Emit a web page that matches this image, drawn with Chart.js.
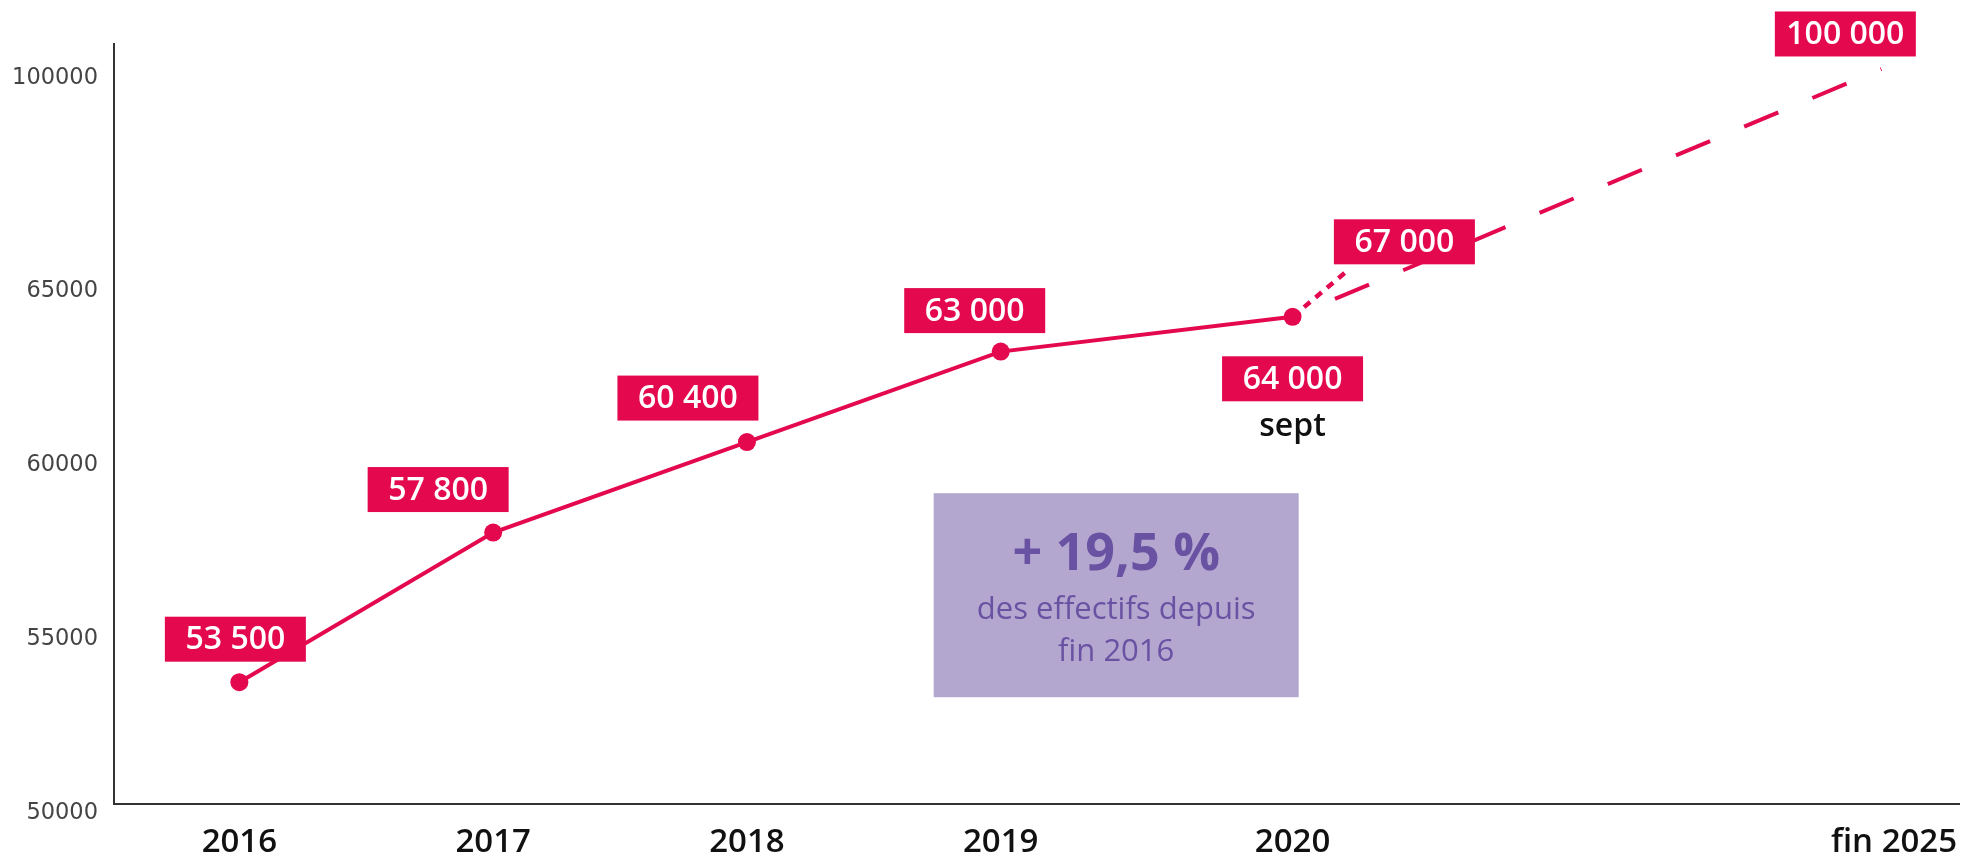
<!DOCTYPE html>
<html lang="fr">
<head>
<meta charset="utf-8">
<title>Effectifs 2016 - fin 2025</title>
<script src="https://cdn.jsdelivr.net/npm/chart.js@4.4.1/dist/chart.umd.min.js"></script>
<style>
    html, body { margin: 0; padding: 0; background: #fff; }
    #wrap { width: 1968px; height: 860px; }
</style>
</head>
<body>
<div id="wrap"><canvas id="chart-effectifs" width="1968" height="860"></canvas></div>
<script>
// x axis of the source is not to scale: each period sits on its own slot
const periods = ['2016', '2017', '2018', '2019', '2020', 'fin 2025'];
const periodSlots = [0, 1, 2, 3, 4.15, 6.52];

const effectifsSlots = [0, 1, 2, 3, 4.15];
const effectifs = [53500, 57800, 60400, 63000, 64000];

const finAnneeSlots = [4.15, 4.37];
const finAnneeValues = [64000, 67000];

const objectifSlots = [4.15, 6.47];
const objectifValues = [64000, 100000];

const yTicks = [50000, 55000, 60000, 65000, 100000];

const RED = '#e4084f';
const PURPLE_BG = '#b3a7d0';
const PURPLE_TXT = '#6a52a3';

// the y axis is broken above 65000
const AXIS_BREAK = 65000;
const UPPER_RATIO = 0.1749;
function toAxis(v) {
    return v <= AXIS_BREAK ? v : AXIS_BREAK + (v - AXIS_BREAK) * UPPER_RATIO;
}

function fmt(v) {
    return String(v).replace(/\B(?=(\d{3})+(?!\d))/g, ' ');
}

function points(slots, values) {
    return slots.map((s, i) => ({ x: s, y: toAxis(values[i]) }));
}

// box centre offsets from each labelled point
const effectifsLabelOffsets = [[-4, -43], [-55, -43], [-59, -44], [-26, -41], [0, 62]];
const finAnneeLabelOffset = [56, -28];
const objectifLabelOffset = [-36, -35];

const boxLabels = {
    id: 'boxLabels',
    afterDatasetsDraw(chart) {
        const ctx = chart.ctx;
        const items = [];
        chart.getDatasetMeta(0).data.forEach((pt, i) => {
            items.push({ pt, text: fmt(effectifs[i]), off: effectifsLabelOffsets[i] });
        });
        items.push({ pt: chart.getDatasetMeta(1).data[1], text: fmt(finAnneeValues[1]), off: finAnneeLabelOffset });
        items.push({ pt: chart.getDatasetMeta(2).data[1], text: fmt(objectifValues[1]), off: objectifLabelOffset });

        ctx.save();
        ctx.font = '600 32px "Open Sans"';
        ctx.textAlign = 'center';
        ctx.textBaseline = 'middle';
        items.forEach(({ pt, text, off }) => {
            const cx = pt.x + off[0];
            const cy = pt.y + off[1];
            ctx.fillStyle = RED;
            ctx.fillRect(cx - 70.5, cy - 22.5, 141, 45);
            ctx.fillStyle = '#fff';
            ctx.fillText(text, cx, cy + 1);
        });

        const sept = chart.getDatasetMeta(0).data[4];
        ctx.fillStyle = '#111';
        ctx.fillText('sept', sept.x, sept.y + 110);
        ctx.restore();
    },
};

const callout = {
    id: 'callout',
    afterDraw(chart) {
        const ctx = chart.ctx;
        const cx = chart.scales.x.getPixelForValue(3.455);
        const cy = chart.scales.y.getPixelForValue(56000);
        ctx.save();
        ctx.fillStyle = PURPLE_BG;
        ctx.fillRect(cx - 182.5, cy - 102, 365, 204);
        ctx.fillStyle = PURPLE_TXT;
        ctx.textAlign = 'center';
        ctx.textBaseline = 'middle';
        ctx.font = 'bold 52px "Open Sans"';
        ctx.fillText('+ 19,5 %', cx, cy - 40);
        ctx.font = '31px "Open Sans"';
        ctx.fillText('des effectifs depuis', cx, cy + 15);
        ctx.fillText('fin 2016', cx, cy + 57);
        ctx.restore();
    },
};

function renderChart() {
    const el = document.getElementById('chart-effectifs');
    new Chart(el.getContext('2d'), {
        type: 'line',
        data: {
            datasets: [
                {
                    label: 'Effectifs',
                    data: points(effectifsSlots, effectifs),
                    borderColor: RED,
                    borderWidth: 4,
                    pointRadius: 9,
                    pointBackgroundColor: RED,
                    pointBorderWidth: 0,
                    tension: 0,
                },
                {
                    label: 'Fin 2020',
                    data: points(finAnneeSlots, finAnneeValues),
                    borderColor: RED,
                    borderWidth: 4.5,
                    borderDash: [8, 7],
                    pointRadius: 0,
                },
                {
                    label: 'Objectif fin 2025',
                    data: points(objectifSlots, objectifValues),
                    borderColor: RED,
                    borderWidth: 4,
                    borderDash: [37, 37],
                    borderDashOffset: 28,
                    pointRadius: 0,
                },
            ],
        },
        options: {
            responsive: false,
            animation: false,
            layout: { padding: { top: 44, right: 0, bottom: 0, left: 0 } },
            plugins: { legend: { display: false }, tooltip: { enabled: false } },
            scales: {
                x: {
                    type: 'linear',
                    min: -0.494,
                    max: 6.776,
                    bounds: 'data',
                    grid: { display: false, drawTicks: false },
                    border: { display: true, color: '#333', width: 2 },
                    afterFit: (scale) => {
                        scale.height = 56;
                        scale.paddingLeft = 0;
                        scale.paddingRight = 0;
                    },
                    afterBuildTicks: (scale) => {
                        scale.ticks = periodSlots.map((v) => ({ value: v }));
                    },
                    ticks: {
                        autoSkip: false,
                        maxRotation: 0,
                        padding: 19,
                        color: '#111',
                        font: { family: '"Open Sans"', size: 33, weight: '600' },
                        callback: (value, index) => periods[index],
                    },
                },
                y: {
                    type: 'linear',
                    min: 50000,
                    max: 71839,
                    bounds: 'data',
                    grid: { display: false, drawTicks: false },
                    border: { display: true, color: '#333', width: 2 },
                    afterFit: (scale) => {
                        scale.width = 114;
                        scale.paddingTop = 0;
                        scale.paddingBottom = 0;
                    },
                    afterBuildTicks: (scale) => {
                        scale.ticks = yTicks.map((v) => ({ value: toAxis(v) }));
                    },
                    ticks: {
                        autoSkip: false,
                        padding: 16,
                        labelOffset: 9,
                        color: '#444',
                        font: { family: '"DejaVu Sans"', size: 22.5, weight: 'normal' },
                        callback: (value, index) => String(yTicks[index]),
                    },
                },
            },
        },
        plugins: [boxLabels, callout],
    });
}

renderChart();
</script>
</body>
</html>
